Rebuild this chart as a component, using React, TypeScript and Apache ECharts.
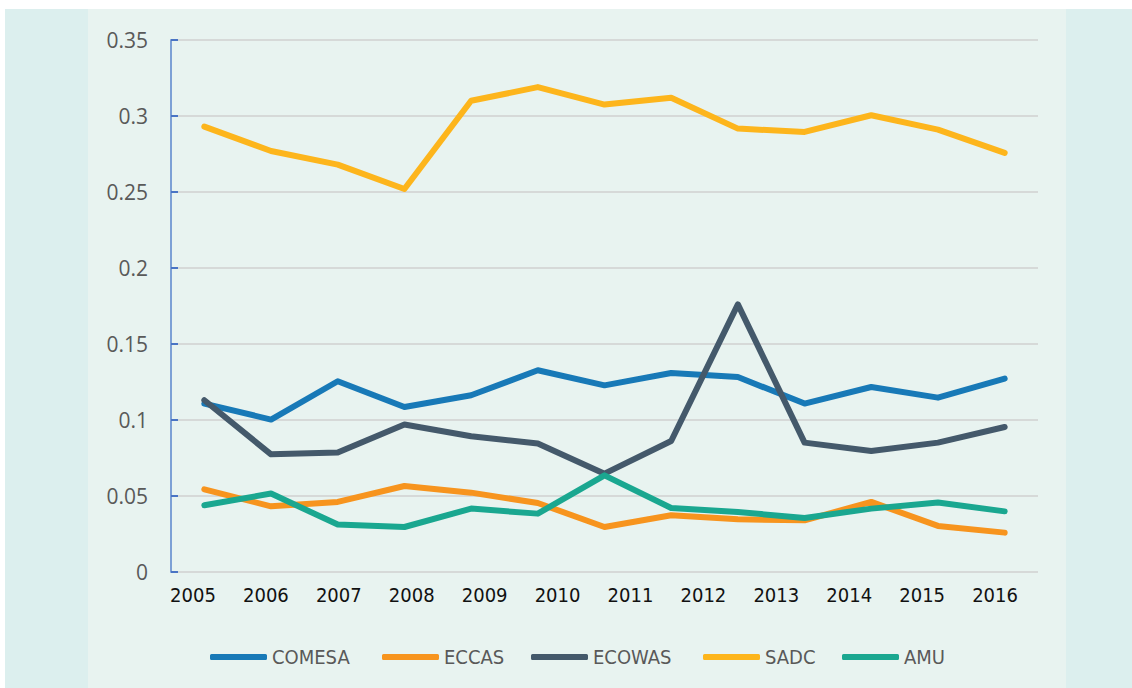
import React, { useEffect, useRef } from "react";
import * as echarts from "echarts";

const years = ["2005", "2006", "2007", "2008", "2009", "2010", "2011", "2012", "2013", "2014", "2015", "2016"];
const yTickLabels = ["0", "0.05", "0.1", "0.15", "0.2", "0.25", "0.3", "0.35"];

const COMESA = [0.1108, 0.1003, 0.1255, 0.1086, 0.1163, 0.1327, 0.1228, 0.1309, 0.1283, 0.1108, 0.1217, 0.1147, 0.1272];
const ECCAS = [0.0544, 0.0432, 0.0461, 0.0566, 0.0522, 0.0454, 0.0296, 0.0373, 0.0347, 0.034, 0.0461, 0.0303, 0.0259];
const ECOWAS = [0.113, 0.0774, 0.0786, 0.097, 0.0893, 0.0845, 0.0647, 0.0862, 0.1761, 0.0851, 0.0796, 0.0851, 0.0954];
const SADC = [0.293, 0.277, 0.268, 0.252, 0.31, 0.319, 0.3075, 0.312, 0.2917, 0.2895, 0.3005, 0.291, 0.2757];
const AMU = [0.0439, 0.0516, 0.0312, 0.0296, 0.0417, 0.0384, 0.0636, 0.0421, 0.0395, 0.0355, 0.0417, 0.0457, 0.0399];

const seriesNames = ["COMESA", "ECCAS", "ECOWAS", "SADC", "AMU"];
const seriesData = [COMESA, ECCAS, ECOWAS, SADC, AMU];
const colors = ["#1879b7", "#f7941e", "#44596b", "#fdb51c", "#1aa790"];
const legendLefts = [210, 382, 531, 703, 842];

export default function App() {
  const ref = useRef<HTMLDivElement>(null);

  useEffect(() => {
    if (!ref.current) return;
    const chart = echarts.init(ref.current, undefined, { renderer: "svg" });
    const narrow = "'Liberation Sans Narrow', 'DejaVu Sans Condensed', 'Roboto Condensed', sans-serif";
    chart.setOption({
      animation: false,
      backgroundColor: "transparent",
      grid: [
        { left: 171, right: 94, top: 40, bottom: 116 },
        { left: 156.5, right: 100.5, top: 40, bottom: 116 },
      ],
      xAxis: [
        {
          type: "category",
          gridIndex: 0,
          boundaryGap: true,
          show: true,
          axisLine: { show: false },
          axisTick: { show: false },
          axisLabel: { show: false },
          splitLine: { show: false },
        },
        {
          type: "category",
          gridIndex: 1,
          data: years,
          boundaryGap: true,
          axisLine: { show: false },
          axisTick: { show: false },
          splitLine: { show: false },
          axisLabel: {
            margin: 13,
            color: "#111111",
            fontFamily: narrow,
            fontSize: 20,
            interval: 0,
          },
        },
      ],
      yAxis: [
        {
          type: "value",
          gridIndex: 0,
          min: 0,
          max: 0.35,
          interval: 0.05,
          axisLine: { show: true, lineStyle: { color: "#7da0d5", width: 2 } },
          axisTick: { show: true, inside: true, length: 7, lineStyle: { color: "#4a74c4", width: 2 } },
          splitLine: { show: true, lineStyle: { color: "#d0d0d0", width: 1.5 } },
          axisLabel: {
            margin: 23,
            color: "#595959",
            fontFamily: "'Open Sans', sans-serif",
            fontSize: 21,
            formatter: (v: number) => yTickLabels[Math.round(v / 0.05)] ?? String(v),
          },
        },
        {
          type: "value",
          gridIndex: 1,
          min: 0,
          max: 0.35,
          show: false,
        },
      ],
      legend: seriesNames.map((name, i) => ({
        data: [name],
        left: legendLefts[i],
        top: 647,
        padding: 0,
        icon: "roundRect",
        itemWidth: 57,
        itemHeight: 6,
        textStyle: { color: "#595959", fontFamily: narrow, fontSize: 20 },
      })),
      series: seriesNames.map((name, i) => ({
        name,
        type: "line",
        xAxisIndex: 0,
        yAxisIndex: 0,
        data: seriesData[i],
        showSymbol: false,
        symbol: "none",
        itemStyle: { color: colors[i] },
        lineStyle: { color: colors[i], width: 6, cap: "round", join: "round" },
      })),
    });
    return () => chart.dispose();
  }, []);

  return (
    <div style={{ position: "fixed", left: 0, top: 0, width: 1132, height: 688, background: "#ffffff" }}>
      <div style={{ position: "absolute", left: 5, top: 9, width: 1127, height: 679, background: "#dcefee" }} />
      <div style={{ position: "absolute", left: 88, top: 9, width: 978, height: 679, background: "#e8f3f0" }} />
      <div ref={ref} style={{ position: "absolute", left: 0, top: 0, width: 1132, height: 688 }} />
    </div>
  );
}
